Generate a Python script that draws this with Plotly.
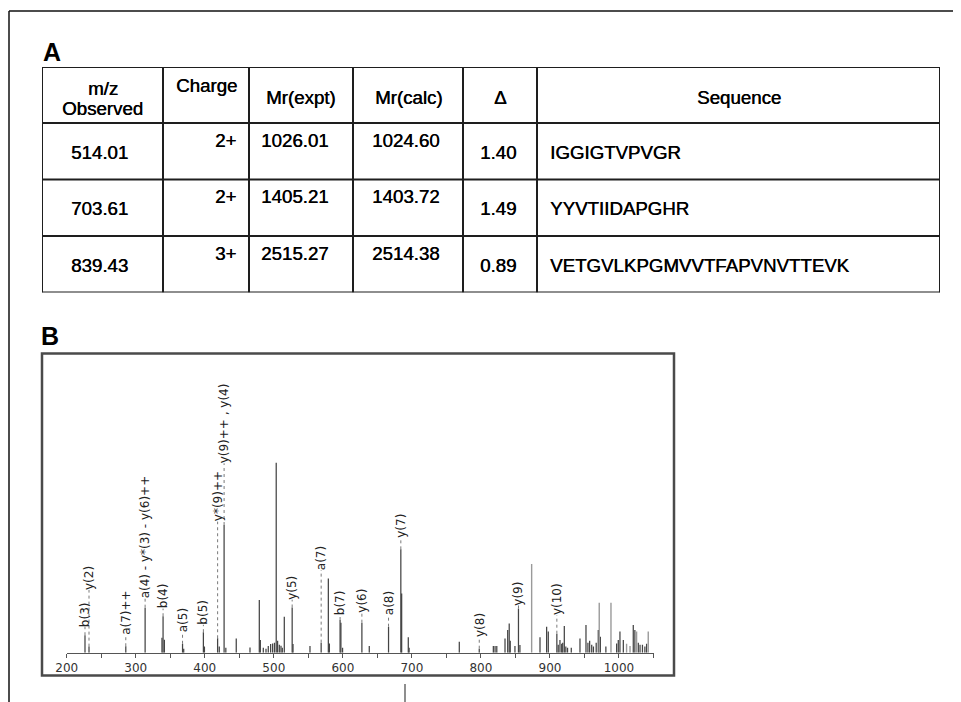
import numpy as np
import plotly.graph_objects as go

W, H = 961, 702

# ---------------- Panel A: table values ----------------
table_header = ["m/z<br>Observed", "Charge", "Mr(expt)", "Mr(calc)", "Δ", "Sequence"]
mz_observed = [514.01, 703.61, 839.43]
charge = [2, 2, 3]
mr_expt = [1026.01, 1405.21, 2515.27]
mr_calc = [1024.60, 1403.72, 2514.38]
delta = [1.40, 1.49, 0.89]
sequence = ["IGGIGTVPVGR", "YYVTIIDAPGHR", "VETGVLKPGMVVTFAPVNVTTEVK"]

# ---------------- Panel B: MS/MS spectrum (relative intensity, %) ----------------
ion_label = ["b(3)", "y(2)", "a(7)++", "a(4) - y*(3) - y(6)++", "b(4)", "a(5)", "b(5)",
             "y*(9)++", "y(9)++ , y(4)", "y(5)", "a(7)", "b(7)", "y(6)", "a(8)", "y(7)",
             "y(8)", "y(9)", "y(10)"]
ion_mz = [226.5, 232.3, 285.6, 313.6, 339.6, 367.8, 398.0,
          418.6, 428.0, 526.6, 568.6, 596.0, 627.6, 666.2, 684.0,
          797.6, 854.4, 910.0]
ion_intensity = [9.2, 3.2, 3.4, 23.7, 19.2, 4.7, 10.8,
                 7.6, 67.2, 23.8, 5.3, 17.2, 15.8, 13.7, 54.4,
                 2.1, 23.3, 10.0]

peak_mz = [338.0, 341.5, 369.5, 399.5, 421.0, 430.5, 445.6, 465.5, 479.0, 480.5,
           484.8, 488.7, 492.0, 495.4, 498.3, 501.0, 503.5, 505.5, 508.0, 510.4,
           512.3, 515.2, 527.8, 552.4, 579.0, 580.5, 597.2, 599.6, 638.3, 685.2,
           694.8, 696.0, 768.7, 818.0, 820.5, 823.0, 834.9, 838.8, 841.0, 842.5,
           849.3, 856.5, 885.6, 895.2, 897.6, 912.0, 914.5, 917.0, 918.5, 920.8,
           923.0, 925.5, 930.9, 943.5, 952.2, 955.0, 957.5, 960.5, 963.0, 967.0,
           970.0, 973.0, 981.0, 996.6, 999.0, 1001.4, 1006.3, 1020.7, 1023.0, 1028.0,
           1030.5, 1034.0, 1037.5, 1040.0]
peak_intensity = [7.9, 6.8, 2.1, 3.2, 3.2, 2.6, 7.5, 2.8, 27.7, 6.7,
                  2.6, 2.1, 3.5, 4.6, 4.9, 5.3, 100.0, 6.3, 4.2, 3.7,
                  2.6, 18.9, 4.6, 3.5, 39.1, 4.9, 15.8, 2.6, 3.5, 31.2,
                  8.1, 2.6, 5.8, 3.5, 3.5, 3.5, 7.5, 11.9, 15.4, 6.3,
                  3.5, 4.1, 8.1, 13.7, 11.1, 4.2, 6.7, 4.7, 5.3, 14.1,
                  3.2, 2.6, 2.6, 7.5, 14.6, 5.3, 6.3, 4.2, 3.2, 5.3,
                  11.9, 8.4, 3.2, 4.9, 6.7, 11.1, 6.7, 14.6, 11.9, 5.3,
                  4.2, 4.2, 3.2, 4.7]

light_mz = [873.5, 971.4, 988.4, 1011.0, 1016.0, 1025.5, 1042.4]
light_intensity = [46.7, 26.3, 26.3, 4.7, 3.5, 11.1, 11.1]

# label placement (height of the start of each rotated label, same units)
ion_label_base = [13.7, 33.0, 9.3, 28.4, 23.2, 10.5, 14.7,
                  69.0, 99.7, 27.9, 43.5, 19.5, 21.0, 19.5, 60.4,
                  8.4, 25.0, 19.7]

# ---------------- geometry / style ----------------
OFF = 8  # page offset of the plot inside the browser window

def px(xp):
    return (xp - OFF) / W

def py(yp):
    return 1 - (yp - OFF) / H

TABLE_FONT = "Liberation Sans, Arial, sans-serif"
SPEC_FONT = "DejaVu Sans, sans-serif"
TXT = "#000000"
TFS = 18.7
TSHADOW = "0.45px 0px 0px #000000"

col_widths = [121, 86, 104, 110, 74, 403]
header_h, row_h = 56, 56.5
col_edges = np.concatenate([[0], np.cumsum(col_widths)])
row_edges = np.concatenate([[0], np.cumsum([header_h] + [row_h] * len(sequence))])
TAB_L, TAB_T = 42, 67
TAB_R = TAB_L + col_edges[-1]
TAB_B = TAB_T + row_edges[-1]

col_halign = ["center", "right", "center", "center", "center", "left"]
col_valign = ["middle", "top", "top", "top", "middle", "middle"]
col_xshift = [-3.5, -13, -6, -2, -2.5, 12.5]
head_valign = ["middle", "top", "middle", "middle", "middle", "middle"]

BASE_PX, TOP_PX = 652.7, 354.0
PX_PER_UNIT = 1.9
Y_MAX = (BASE_PX - TOP_PX) / PX_PER_UNIT
X0_PX, X1_PX = 66.7, 653.5

fig = go.Figure()

# ---------------- spectrum stems ----------------
def stems(xs, ys):
    X, Y = [], []
    for x, y in zip(xs, ys):
        X += [x, x, None]
        Y += [0, y, None]
    return X, Y

sx, sy = stems(peak_mz + ion_mz, peak_intensity + ion_intensity)
fig.add_trace(go.Scatter(x=sx, y=sy, mode="lines", line=dict(color="#444444", width=1.25),
                         hoverinfo="skip", showlegend=False))
lx, ly = stems(light_mz, light_intensity)
fig.add_trace(go.Scatter(x=lx, y=ly, mode="lines", line=dict(color="#9a9a9a", width=1.4),
                         hoverinfo="skip", showlegend=False))

# invisible trace to hold the table axes
fig.add_trace(go.Scatter(x=[0], y=[0], xaxis="x2", yaxis="y2", mode="markers",
                         marker=dict(opacity=0), hoverinfo="skip", showlegend=False))

shapes = []
annotations = []

# ion labels with dotted connectors
for lab, m, inten, base in zip(ion_label, ion_mz, ion_intensity, ion_label_base):
    if base > inten:
        shapes.append(dict(type="line", xref="x", yref="y", x0=m, x1=m, y0=inten, y1=base,
                           line=dict(color="#7a7a7a", width=1, dash="dot")))
    annotations.append(dict(x=m, y=base, xref="x", yref="y", text=lab, textangle=-90,
                            xanchor="center", yanchor="bottom", showarrow=False,
                            borderpad=0, borderwidth=0,
                            font=dict(family=SPEC_FONT, size=12, color="#222222")))

# ---------------- table grid ----------------
for ce in col_edges:
    shapes.append(dict(type="line", xref="x2", yref="y2", x0=ce, x1=ce, y0=0, y1=row_edges[-1],
                       line=dict(color="#1e1e1e", width=2)))
for re_ in row_edges:
    shapes.append(dict(type="line", xref="x2", yref="y2", x0=0, x1=col_edges[-1], y0=re_, y1=re_,
                       line=dict(color="#1e1e1e", width=2)))

def cell_x(ci):
    a = col_halign[ci]
    if a == "left":
        return col_edges[ci] + col_xshift[ci], "left"
    if a == "right":
        return col_edges[ci + 1] + col_xshift[ci], "right"
    return (col_edges[ci] + col_edges[ci + 1]) / 2 + col_xshift[ci], "center"

def tab_text(text, x, y, anchor):
    annotations.append(dict(x=x, y=y, xref="x2", yref="y2", text=text, showarrow=False,
                            xanchor=anchor, yanchor="middle", borderpad=0, borderwidth=0,
                            font=dict(family=TABLE_FONT, size=TFS, color=TXT, shadow=TSHADOW)))

# header
for ci, head in enumerate(table_header):
    cx = (col_edges[ci] + col_edges[ci + 1]) / 2
    lines = head.split("<br>")
    if len(lines) == 2:
        tab_text(lines[0], cx, 21, "center")
        tab_text(lines[1], cx, 41, "center")
    else:
        yy = 18 if head_valign[ci] == "top" else 30
        tab_text(head, cx, yy, "center")

# body
rows = list(zip([f"{v:.2f}" for v in mz_observed],
                [f"{c}+" for c in charge],
                [f"{v:.2f}" for v in mr_expt],
                [f"{v:.2f}" for v in mr_calc],
                [f"{v:.2f}" for v in delta],
                sequence))
for ri, row in enumerate(rows):
    top = row_edges[ri + 1]
    for ci, val in enumerate(row):
        x, anc = cell_x(ci)
        yy = top + (17 if col_valign[ci] == "top" else 29)
        tab_text(val, x, yy, anc)

# ---------------- panel letters ----------------
annotations.append(dict(x=px(41.5), y=py(51.9), xref="paper", yref="paper", text="<b>A</b>",
                        showarrow=False, xanchor="left", yanchor="middle", borderpad=0,
                        font=dict(family=TABLE_FONT, size=25, color="#000")))
annotations.append(dict(x=px(40.3), y=py(336), xref="paper", yref="paper", text="<b>B</b>",
                        showarrow=False, xanchor="left", yanchor="middle", borderpad=0,
                        font=dict(family=TABLE_FONT, size=25, color="#000")))

# ---------------- frames ----------------
shapes.append(dict(type="rect", xref="paper", yref="paper", x0=px(42), x1=px(674),
                   y0=py(675.5), y1=py(353.5), line=dict(color="#4a4a4a", width=2.5)))
shapes.append(dict(type="line", xref="paper", yref="paper", x0=px(9), x1=1, y0=py(11), y1=py(11),
                   line=dict(color="#111", width=1.5)))
shapes.append(dict(type="line", xref="paper", yref="paper", x0=px(9), x1=px(9), y0=py(11), y1=0,
                   line=dict(color="#111", width=1.5)))
shapes.append(dict(type="line", xref="paper", yref="paper", x0=px(405), x1=px(405), y0=py(684), y1=0,
                   line=dict(color="#444", width=1.2)))

fig.update_layout(
    width=W, height=H,
    margin=dict(l=0, r=0, t=0, b=0, pad=0, autoexpand=False),
    paper_bgcolor="white", plot_bgcolor="rgba(0,0,0,0)",
    showlegend=False,
    xaxis=dict(domain=[px(X0_PX), px(X1_PX)], range=[200, 1050], anchor="y",
               showgrid=False, zeroline=False, showline=True, linecolor="#555", linewidth=1.2,
               tickmode="linear", tick0=200, dtick=100, ticks="outside", ticklen=4,
               tickcolor="#555", tickwidth=1.2, automargin=False,
               minor=dict(dtick=50, tick0=200, ticks="outside", ticklen=4, tickcolor="#555",
                          tickwidth=1.2, showgrid=False),
               tickfont=dict(family=SPEC_FONT, size=12, color="#333"), fixedrange=True),
    yaxis=dict(domain=[py(BASE_PX), py(TOP_PX)], range=[0, Y_MAX], anchor="x",
               visible=False, fixedrange=True, automargin=False),
    xaxis2=dict(domain=[px(TAB_L), px(TAB_R)], range=[0, col_edges[-1]], anchor="y2",
                visible=False, fixedrange=True, automargin=False),
    yaxis2=dict(domain=[py(TAB_B), py(TAB_T)], range=[row_edges[-1], 0], anchor="x2",
                visible=False, fixedrange=True, automargin=False),
    shapes=shapes,
    annotations=annotations,
)

fig.write_html("out.html")
